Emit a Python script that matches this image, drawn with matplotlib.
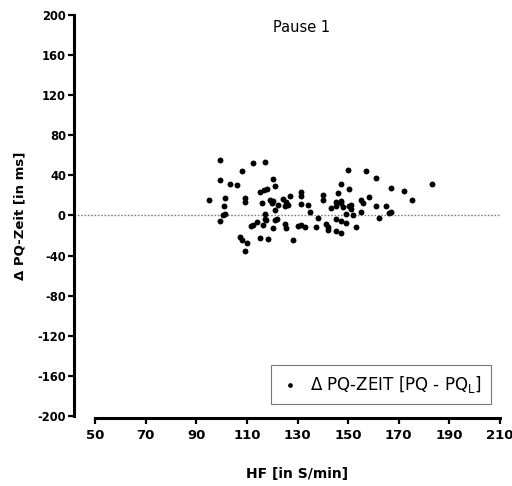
'''Bland-Altman style scatter: Delta PQ-Zeit against HF, Pause 1.'''

import matplotlib
matplotlib.use('Agg')
import matplotlib.pyplot as plt

plt.rcParams['font.family'] = ['DejaVu Sans']
plt.rcParams['axes.unicode_minus'] = False

title = 'Pause 1'
xlabel = 'HF [in S/min]'
ylabel = '\u0394 PQ-Zeit [in ms]'
legend_label = '\u0394 PQ-ZEIT [PQ - PQ$_{\\mathrm{L}}$]'

xticks = [50, 70, 90, 110, 130, 150, 170, 190, 210]
yticks = [-200, -160, -120, -80, -40, 0, 40, 80, 120, 160, 200]

hf = [99.4, 112.3, 117.0, 108.2, 99.3, 103.2, 106.1, 120.2, 121.2, 115.2,
      116.8, 118.0, 95.2, 101.2, 109.1, 109.1, 101.1, 100.5, 101.2, 99.3,
      116.1, 119.3, 120.2, 120.0, 122.4, 124.1, 125.5, 125.1, 126.4, 127.2,
      131.3, 131.3, 131.3, 134.3, 117.0, 117.0, 117.4, 121.2, 122.0, 121.2,
      111.5, 112.5, 114.1, 116.3, 120.2, 125.2, 125.3, 130.3, 133.1, 131.3,
      107.2, 108.2, 110.2, 109.3, 115.3, 118.2, 128.2, 134.9,
      150.1, 157.2, 161.1, 147.2, 150.2, 146.1, 167.1, 172.1, 183.2, 175.1,
      158.1, 155.1, 156.0, 161.1, 165.1, 166.2, 167.0, 162.1, 155.1, 152.1,
      153.1, 149.2, 149.2, 147.2, 147.2, 145.2, 145.2, 142.2, 142.2, 141.3,
      143.2, 145.2, 145.2, 147.2, 147.2, 148.1, 150.2, 151.1, 151.1, 140.2,
      140.2, 138.2, 137.3]
dpq = [55, 52, 53, 44, 35, 31, 30, 36, 29, 23,
       25, 26, 15, 17, 17, 13, 9, 0, 1, -5,
       12, 15, 14, 12, 10, 16, 13, 9, 10, 19,
       23, 19, 11, 10, 1, -3, -4, -4, -3, 5,
       -10, -9, -6, -9, -12, -8, -12, -10, -11, -9,
       -21, -24, -27, -35, -22, -23, -24, 3,
       45, 44, 37, 31, 26, 22, 27, 24, 31, 15,
       18, 15, 12, 9, 9, 2, 3, -2, 3, 0,
       -11, 1, -7, -5, -17, -15, -3, -11, -14, -8,
       7, 13, 9, 14, 12, 8, 9, 10, 6, 20,
       15, -2, -11]

fig = plt.figure(figsize=(5.12, 4.86), dpi=100)
ax = fig.add_axes([95 / 512, 1 - 416 / 486, 405 / 512, 401 / 486])

ax.scatter(hf, dpq, s=18, color='black', linewidths=0, zorder=3,
           label=legend_label)
ax.axhline(0, xmin=-21 / 405, xmax=1, color='#808080', lw=1.0,
           ls=(0, (1.2, 1.2)), clip_on=False, zorder=1)

ax.set_xlim(50, 210)
ax.set_ylim(-200, 200)
ax.set_xticks(xticks)
ax.set_yticks(yticks)

for side in ['top', 'right']:
    ax.spines[side].set_visible(False)
ax.spines['left'].set_position(('outward', 15))
ax.spines['bottom'].set_position(('outward', 1.5))
ax.spines['left'].set_linewidth(2.2)
ax.spines['bottom'].set_linewidth(2.2)
ax.tick_params(width=1.6, length=4.5, pad=1.5)
ax.tick_params(axis='x', labelsize=9.5, pad=3)
ax.tick_params(axis='y', labelsize=8.3)
for lab in ax.get_xticklabels() + ax.get_yticklabels():
    lab.set_fontweight('bold')

ax.set_xlabel(xlabel, fontsize=10, fontweight='bold', labelpad=18)
ax.set_ylabel(ylabel, fontsize=9.5, fontweight='bold', labelpad=8)
ax.text(0.511, 0.9676, title, transform=ax.transAxes, fontsize=10.5,
        ha='center', va='center')

leg = ax.legend(loc='lower right', bbox_to_anchor=(0.978, 0.03),
                borderaxespad=0, fontsize=12, fancybox=False,
                handletextpad=0.6, markerscale=0.8, borderpad=0.55,
                handlelength=1.2)
leg.get_frame().set_edgecolor('#555555')
leg.get_frame().set_linewidth(0.8)

fig.savefig('out.png', dpi=100)
